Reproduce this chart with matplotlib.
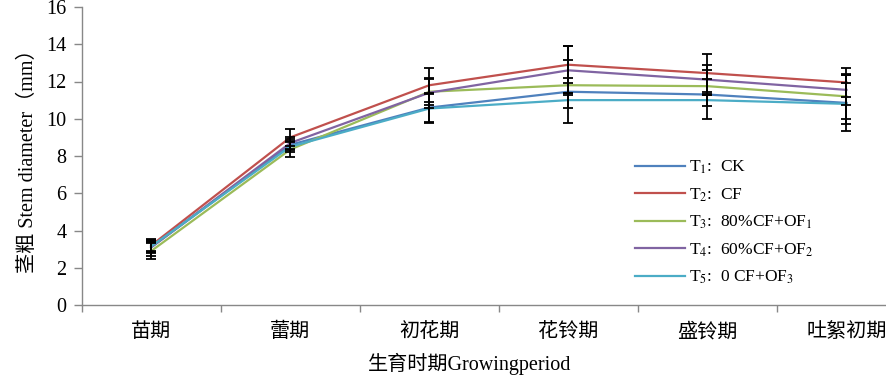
import numpy as np
import matplotlib
matplotlib.use("Agg")
import matplotlib.pyplot as plt

plt.rcParams['font.family'] = ['Liberation Serif', 'Noto Sans CJK SC']
plt.rcParams['mathtext.fontset'] = 'stix'

# ======= 数据 =======
stages = ['苗期', '蕾期', '初花期', '花铃期', '盛铃期', '吐絮初期']

t1 = [3.10, 8.60, 10.60, 11.45, 11.30, 10.85]
t2 = [3.20, 9.00, 11.80, 12.90, 12.45, 11.95]
t3 = [2.90, 8.35, 11.45, 11.80, 11.75, 11.20]
t4 = [3.10, 8.70, 11.40, 12.60, 12.10, 11.55]
t5 = [3.15, 8.50, 10.55, 11.00, 11.00, 10.80]

t1_err = [0.45, 0.30, 0.80, 1.70, 1.30, 1.50]
t2_err = [0.30, 0.45, 0.90, 1.00, 1.00, 0.80]
t3_err = [0.45, 0.40, 0.70, 0.40, 0.40, 1.20]
t4_err = [0.30, 0.30, 0.80, 1.30, 0.80, 0.80]
t5_err = [0.30, 0.30, 0.80, 0.40, 0.30, 1.10]

labels = [r'T$_1$:  CK', r'T$_2$:  CF', r'T$_3$:  80%CF+OF$_1$',
          r'T$_4$:  60%CF+OF$_2$', r'T$_5$:  0 CF+OF$_3$']
colors = ['#4F81BD', '#C0504D', '#9BBB59', '#8064A2', '#4BACC6']

series = [t1, t2, t3, t4, t5]
errs = [t1_err, t2_err, t3_err, t4_err, t5_err]

# ======= 绘图 =======
fig = plt.figure(figsize=(8.86, 3.75), dpi=100)
# 右侧坐标轴被裁掉了，所以 axes 超出画布
ax = fig.add_axes([81.7 / 886, 1 - 305 / 375, (916 - 81.7) / 886, (305 - 7) / 375])

x = np.arange(len(stages))
for vals, c, lab in zip(series, colors, labels):
    ax.plot(x, vals, color=c, lw=1.6, label=lab, zorder=2)
for vals, err in zip(series, errs):
    ax.errorbar(x, vals, yerr=err, fmt='none', ecolor='black',
                elinewidth=1.3, capsize=3.3, capthick=1.3, zorder=3)

ax.set_xlim(-0.5, 5.5)
ax.set_ylim(0, 16)
ax.set_yticks(np.arange(0, 17, 2))
ax.set_xticks(x)
ax.set_xticklabels(stages, fontsize=14.5)
ax.set_xticks(np.arange(-0.5, 6, 1), minor=True)
ax.tick_params(axis='x', which='major', length=0, pad=13)
ax.tick_params(axis='x', which='minor', length=5, color='#888888', width=1)
ax.tick_params(axis='y', length=6, color='#888888', width=1, labelsize=14.5, pad=5)

for s in ['top', 'right']:
    ax.spines[s].set_visible(False)
for s in ['left', 'bottom']:
    ax.spines[s].set_color('#888888')
    ax.spines[s].set_linewidth(1.0)

ax.set_ylabel('茎粗 Stem diameter（mm）', fontsize=14.5, labelpad=6)
fig.text(470 / 886, 1 - 364 / 375, '生育时期Growingperiod', fontsize=14.5,
         ha='center', va='center')

leg = fig.legend(loc='upper left', bbox_to_anchor=(628 / 886, 1 - 152 / 375),
                 frameon=False, fontsize=12.5, handlelength=2.9,
                 handletextpad=0.2, labelspacing=0.58, borderaxespad=0)

fig.savefig('out.png', dpi=100)
